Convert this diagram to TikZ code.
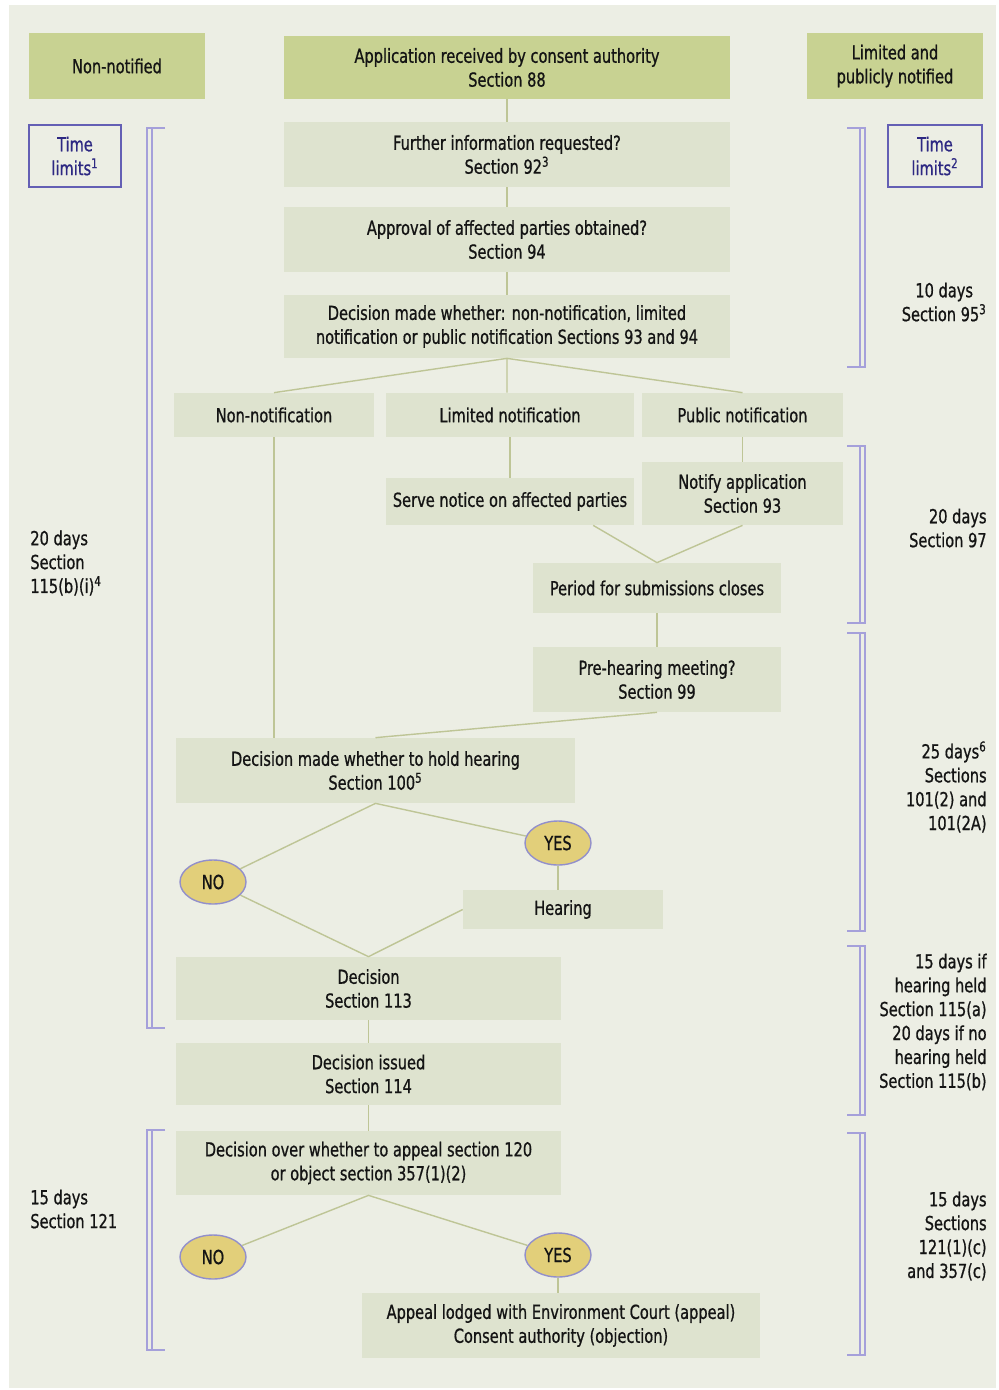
\documentclass[tikz,border=0pt]{standalone}
\usepackage{fontspec}
\setmainfont{DejaVu Sans Condensed}[FakeStretch=0.84,FakeBold=0.8]
\usetikzlibrary{shapes}
\newlength\pxu
\setlength\pxu{0.02cm}
\definecolor{panel}{RGB}{236,238,228}
\definecolor{headgreen}{RGB}{200,210,146}
\definecolor{stepfill}{RGB}{222,227,207}
\definecolor{linkcol}{RGB}{190,197,150}
\definecolor{brackcol}{RGB}{165,160,218}
\definecolor{limitcol}{RGB}{100,95,180}
\definecolor{limittext}{RGB}{45,40,130}
\definecolor{answerfill}{RGB}{226,207,122}

\begin{document}
\begin{tikzpicture}[x=0.02cm,y=-0.02cm]
\tikzstyle{every node}=[font=\fontsize{11}{13.6}\selectfont, text=black!92, align=center, inner sep=0pt]
\tikzstyle{head}=[fill=headgreen, minimum height=66\pxu]
\tikzstyle{stepbox}=[fill=stepfill]
\tikzstyle{answer}=[ellipse, fill=answerfill, draw=limitcol!70, line width=0.8pt,
	minimum width=66\pxu, minimum height=44\pxu]
\tikzstyle{limits}=[draw=limitcol, line width=1.1pt, text=limittext,
	minimum width=92\pxu, minimum height=62\pxu]
\tikzstyle{link}=[draw=linkcol, line width=0.8pt]
\tikzstyle{bracket}=[draw=brackcol, line width=0.8pt]
\tikzstyle{days}=[anchor=east, align=right]

\useasboundingbox (0,0) rectangle (998,1390);
\fill[white] (0,0) rectangle (998,1390);
\fill[panel] (9,5) rectangle (996,1388);

% header row
\node[head, minimum width=176\pxu] (nonnotified) at (117,66) {Non-notified};
\node[head, minimum width=446\pxu, minimum height=63\pxu] (received) at (507,67.5)
	{Application received by consent authority\\Section 88};
\node[head, minimum width=176\pxu] (notified) at (895,66) {Limited and\\publicly notified};

\node[limits] (limitsL) at (75,156) {Time\\limits\textsuperscript{1}};
\node[limits, minimum width=94\pxu] (limitsR) at (935,156) {Time\\limits\textsuperscript{2}};

% main steps
\node[stepbox, minimum width=446\pxu, minimum height=65\pxu] (further) at (507,154.5)
	{Further information requested?\\Section 92\textsuperscript{3}};
\node[stepbox, minimum width=446\pxu, minimum height=65\pxu] (approval) at (507,239.5)
	{Approval of affected parties obtained?\\Section 94};
\node[stepbox, minimum width=446\pxu, minimum height=63\pxu] (whichnotice) at (507,326.5)
	{Decision made whether: non-notification, limited\\notification or public notification Sections 93 and 94};

\node[stepbox, minimum width=200\pxu, minimum height=44\pxu] (nonnotice) at (274,415) {Non-notification};
\node[stepbox, minimum width=248\pxu, minimum height=44\pxu] (limitednotice) at (510,415) {Limited notification};
\node[stepbox, minimum width=201\pxu, minimum height=44\pxu] (publicnotice) at (742.5,415) {Public notification};
\node[stepbox, minimum width=248\pxu, minimum height=47\pxu] (serve) at (510,501.5) {Serve notice on affected parties};
\node[stepbox, minimum width=201\pxu, minimum height=63\pxu] (notify) at (742.5,493.5) {Notify application\\Section 93};
\node[stepbox, minimum width=248\pxu, minimum height=50\pxu] (closes) at (657,588) {Period for submissions closes};
\node[stepbox, minimum width=248\pxu, minimum height=65\pxu] (prehearing) at (657,679.5) {Pre-hearing meeting?\\Section 99};
\node[stepbox, minimum width=399\pxu, minimum height=65\pxu] (holdhearing) at (375.5,770.5)
	{Decision made whether to hold hearing\\Section 100\textsuperscript{5}};
\node[answer] (no1) at (213,882) {NO};
\node[answer] (yes1) at (558,843) {YES};
\node[stepbox, minimum width=200\pxu, minimum height=39\pxu] (hearing) at (563,909.5) {Hearing};
\node[stepbox, minimum width=385\pxu, minimum height=63\pxu] (decision) at (368.5,988.5) {Decision\\Section 113};
\node[stepbox, minimum width=385\pxu, minimum height=62\pxu] (issued) at (368.5,1074) {Decision issued\\Section 114};
\node[stepbox, minimum width=385\pxu, minimum height=64\pxu] (appealq) at (368.5,1163)
	{Decision over whether to appeal section 120\\or object section 357(1)(2)};
\node[answer] (no2) at (213,1257) {NO};
\node[answer] (yes2) at (558,1255) {YES};
\node[stepbox, minimum width=398\pxu, minimum height=65\pxu] (appeal) at (561,1325.5)
	{Appeal lodged with Environment Court (appeal)\\Consent authority (objection)};

% connectors
\path[link] (received) -- (further) (further) -- (approval) (approval) -- (whichnotice);
\path[link] (whichnotice.south) -- (nonnotice.north)
	(whichnotice.south) -- (whichnotice.south |- limitednotice.north)
	(whichnotice.south) -- (publicnotice.north);
\path[link] (limitednotice) -- (serve) (publicnotice) -- (notify);
\path[link] (serve.-16) -- (closes.north) (notify.south) -- (closes.north);
\path[link] (closes) -- (prehearing);
\path[link] (nonnotice.south) -- (nonnotice.south |- holdhearing.north);
\path[link] (prehearing.south) -- (holdhearing.north);
\path[link] (holdhearing.south) -- (no1) (holdhearing.south) -- (yes1);
\path[link] (yes1.south) -- (yes1.south |- hearing.north);
\path[link] (no1) -- (decision.north) (hearing.west) -- (decision.north);
\path[link] (decision) -- (issued) (issued) -- (appealq);
\path[link] (appealq.south) -- (no2) (appealq.south) -- (yes2);
\path[link] (yes2.south) -- (yes2.south |- appeal.north);

% time limit brackets
\foreach \ya/\yb in {128/1028, 1130/1350} {
	\draw[bracket] (165,\ya) -- (147,\ya) -- (147,\yb) -- (165,\yb);
	\draw[bracket] (152,\ya) -- (152,\yb);
}
\foreach \ya/\yb in {128/367, 446/623, 633/931, 946/1115, 1133/1355} {
	\draw[bracket] (847,\ya) -- (865,\ya) -- (865,\yb) -- (847,\yb);
	\draw[bracket] (860,\ya) -- (860,\yb);
}

% time limit labels
\node[anchor=west, align=left] (daysL1) at (30,563) {20 days\\Section\\115(b)(i)\textsuperscript{4}};
\node[anchor=west, align=left] (daysL2) at (30,1209) {15 days\\Section 121};
\node[anchor=east] (daysR1) at (987,302) {10 days\\Section 95\textsuperscript{3}};
\node[days] (daysR2) at (987,528) {20 days\\Section 97};
\node[days] (daysR3) at (987,787) {25 days\textsuperscript{6}\\Sections\\101(2) and\\101(2A)};
\node[days] (daysR4) at (987,1022) {15 days if\\hearing held\\Section 115(a)\\20 days if no\\hearing held\\Section 115(b)};
\node[days] (daysR5) at (987,1236) {15 days\\Sections\\121(1)(c)\\and 357(c)};
\end{tikzpicture}
\end{document}
